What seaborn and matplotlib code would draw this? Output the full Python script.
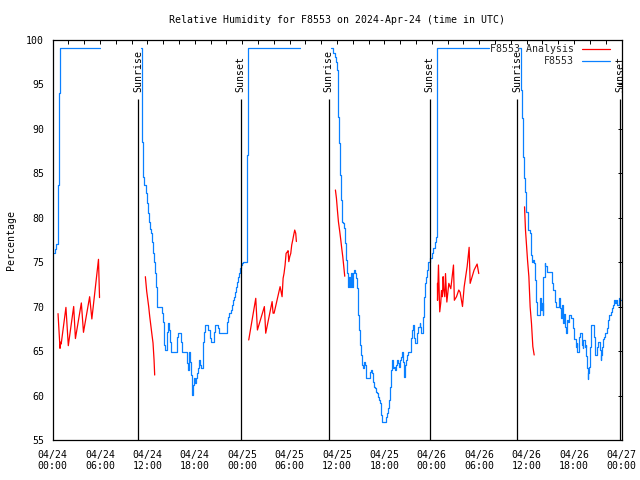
import matplotlib
matplotlib.use("Agg")
import matplotlib.pyplot as plt
import seaborn as sns
import pandas as pd
from matplotlib.ticker import MultipleLocator, FixedLocator

# ---------------- data (time = hours since 2024-04-24 00:00 UTC) ----------------
obs1_h = [0.19, 0.274, 0.358, 0.485, 0.738, 0.865, 0.99, 5.97]
obs1_v = [75.97, 76.2, 76.5, 77.0, 83.6, 93.95, 99.0, 99.0]

obs2_h = [11.245, 11.287, 11.371, 11.498, 11.624, 11.793, 11.920, 12.046, 12.215, 12.342,
          12.468, 12.595, 12.722, 12.848, 12.975, 13.101, 13.228, 13.819, 13.945, 14.072,
          14.198, 14.452, 14.578, 14.705, 14.831, 14.958, 15.717, 15.844, 16.266, 16.393,
          16.984, 17.110, 17.237, 17.363, 17.490, 17.616, 17.743, 17.869, 17.996, 18.123,
          18.249, 18.376, 18.502, 18.629, 18.755, 19.009, 19.135, 19.262, 19.641, 19.895,
          20.021, 20.401, 20.528, 20.992, 21.118, 22.046, 22.173, 22.300, 22.553, 22.680,
          22.806, 22.933, 23.059, 23.186, 23.312, 23.439, 23.566, 23.692, 23.819, 23.987,
          24.156, 24.662, 24.789, 31.329]
obs2_v = [99.0, 95.45, 88.52, 84.59, 83.65, 82.71, 81.59, 80.54, 79.53, 78.67,
          78.22, 77.21, 76.05, 75.04, 73.73, 72.23, 69.98, 69.23, 68.30, 65.67,
          65.11, 67.17, 68.11, 67.36, 66.05, 64.92, 66.61, 66.98, 66.05, 64.92,
          63.61, 62.87, 64.92, 63.80, 62.30, 60.06, 61.18, 61.93, 61.37, 61.93,
          62.49, 63.05, 63.99, 63.43, 63.05, 66.05, 67.17, 67.92, 67.36, 66.42,
          66.05, 67.17, 67.92, 67.55, 66.98, 68.30, 68.86, 69.23, 69.61, 70.17,
          70.73, 71.10, 71.67, 72.23, 72.79, 73.35, 73.73, 74.29, 74.66, 74.85,
          74.96, 87.02, 99.0, 99.0]

obs3_h = [35.21, 35.55, 35.76, 35.89, 35.97, 36.10, 36.18, 36.31, 36.39, 36.52,
          36.65, 36.77, 36.90, 37.03, 37.15, 37.28, 37.41, 37.53, 37.66, 37.79,
          37.91, 38.04, 38.16, 38.29, 38.42, 38.54, 38.67, 38.80, 38.92, 39.05,
          39.18, 39.30, 39.43, 39.56, 39.68, 40.19, 40.36, 40.49, 40.61, 40.74,
          40.87, 40.99, 41.12, 41.25, 41.37, 41.50, 41.62, 41.75, 42.26, 42.38,
          42.51, 42.64, 42.76, 42.89, 43.02, 43.14, 43.27, 43.40, 43.52, 43.65,
          43.78, 43.90, 44.03, 44.16, 44.28, 44.41, 44.54, 44.66, 44.79, 44.92,
          45.04, 45.42, 45.55, 45.68, 45.80, 45.93, 46.06, 46.18, 46.31, 46.44,
          46.56, 46.69, 46.94, 47.07, 47.19, 47.32, 47.45, 47.57, 47.83, 48.04,
          48.21, 48.37, 48.54, 48.62, 48.67, 55.2]
obs3_v = [99.0, 98.45, 98.07, 97.51, 96.57, 93.76, 91.33, 88.33, 84.78, 81.97,
          79.53, 79.35, 78.78, 77.10, 75.22, 73.73, 72.23, 73.35, 72.23, 73.73,
          72.23, 73.73, 74.10, 73.73, 73.17, 72.04, 69.05, 67.36, 65.67, 64.55,
          63.43, 63.05, 63.80, 63.43, 61.93, 62.68, 62.86, 62.49, 61.55, 60.99,
          60.81, 60.43, 60.24, 59.87, 59.49, 59.12, 57.81, 57.06, 57.62, 58.00,
          58.56, 59.49, 60.99, 62.86, 63.99, 63.05, 63.24, 62.86, 63.43, 63.99,
          63.61, 63.24, 63.99, 64.36, 64.92, 63.80, 62.12, 63.43, 63.99, 64.55,
          64.92, 66.42, 67.36, 67.92, 66.42, 65.86, 66.05, 66.98, 67.73, 68.11,
          67.73, 66.98, 68.86, 71.10, 72.60, 73.35, 74.10, 75.04, 75.41, 75.97,
          76.54, 77.29, 77.85, 78.22, 99.0, 99.0]

obs4_h = [59.09, 59.26, 59.39, 59.52, 59.68, 59.81, 59.94, 60.11, 60.23, 60.36,
          60.57, 60.70, 60.82, 60.95, 61.08, 61.20, 61.33, 61.71, 61.84, 61.96,
          62.05, 62.13, 62.26, 62.38, 62.51, 63.19, 63.31, 63.61, 63.73, 64.11,
          64.24, 64.37, 64.49, 64.62, 64.75, 64.87, 65.00, 65.13, 65.25, 65.38,
          65.67, 65.80, 66.05, 66.18, 66.31, 66.43, 66.56, 66.69, 66.94, 67.07,
          67.19, 67.32, 67.45, 67.53, 67.62, 67.70, 67.78, 67.91, 68.04, 68.16,
          68.54, 68.63, 68.71, 68.84, 68.97, 69.26, 69.35, 69.43, 69.56, 69.68,
          69.81, 69.94, 70.19, 70.32, 70.44, 70.70, 70.82, 70.95, 71.08, 71.20,
          71.33, 71.46, 71.71, 71.84, 72.0]
obs4_v = [99.0, 94.33, 91.14, 86.83, 84.40, 82.90, 80.65, 79.72, 78.60, 78.22,
          75.80, 75.00, 75.20, 74.85, 73.00, 70.50, 69.04, 70.90, 69.60, 70.36,
          69.04, 73.35, 74.85, 74.50, 73.90, 72.60, 71.90, 70.50, 70.00, 70.90,
          69.80, 68.70, 70.20, 68.10, 69.20, 67.70, 67.00, 68.50, 68.30, 69.04,
          68.70, 67.55, 66.40, 65.50, 65.90, 64.90, 66.60, 67.00, 65.70, 65.30,
          66.20, 65.50, 65.70, 64.40, 63.05, 61.90, 62.50, 63.25, 65.50, 67.90,
          66.60, 65.50, 64.55, 65.50, 66.05, 65.10, 64.00, 64.55, 65.50, 66.40,
          66.60, 67.00, 67.55, 68.50, 69.04, 69.40, 69.80, 70.20, 70.70, 70.36,
          70.70, 70.20, 70.90, 70.70, 70.70]

ana1_h = [0.70, 0.95, 1.05, 1.10, 1.70, 2.00, 2.68, 2.90, 3.65, 3.92, 4.70, 4.98, 5.82, 5.95]
ana1_v = [69.2, 65.3, 66.0, 65.8, 69.9, 65.6, 70.0, 66.4, 70.4, 67.1, 71.1, 68.6, 75.3, 71.0]

ana2_h = [11.75, 11.92, 12.17, 12.30, 12.59, 12.72, 12.85, 12.93]
ana2_v = [73.35, 71.7, 70.0, 68.9, 66.8, 65.9, 64.0, 62.3]

ana3_h = [24.83, 25.72, 25.93, 26.81, 26.98, 27.79, 27.91, 28.04, 28.80, 29.05,
          29.18, 29.30, 29.43, 29.56, 29.68, 29.81, 29.90, 30.02, 30.15, 30.27,
          30.40, 30.52, 30.65, 30.78, 30.86]
ana3_v = [66.24, 70.92, 67.36, 69.99, 67.0, 70.55, 69.25, 69.25, 72.23, 71.1,
          73.17, 73.73, 74.66, 75.97, 76.1, 76.27, 75.04, 75.6, 75.97, 76.91,
          77.47, 78.03, 78.59, 78.22, 77.3]

ana4_h = [35.80, 35.93, 36.05, 36.18, 36.35, 36.48, 36.60, 36.73, 36.86, 36.98]
ana4_v = [83.09, 82.15, 80.84, 79.53, 78.4, 77.47, 76.53, 75.6, 74.47, 73.4]

ana5_h = [48.71, 48.72, 48.84, 49.00, 49.13, 49.22, 49.34, 49.43, 49.50, 49.64,
          49.73, 49.90, 50.15, 50.40, 50.74, 50.85, 51.12, 51.41, 51.58, 51.88,
          52.09, 52.47, 52.72, 52.85, 53.35, 53.73, 53.94]
ana5_v = [72.6, 70.7, 74.66, 69.4, 70.4, 71.8, 71.1, 73.35, 72.0, 71.1,
          73.7, 70.5, 72.6, 72.0, 74.66, 70.7, 71.1, 71.85, 71.6, 70.0,
          72.2, 74.5, 76.65, 72.6, 74.1, 74.77, 73.7]

ana6_h = [59.73, 59.85, 59.98, 60.11, 60.28, 60.44, 60.61, 60.78, 60.95]
ana6_v = [81.2, 78.6, 76.9, 75.2, 73.35, 69.96, 68.1, 65.5, 64.55]

sun_hours = [10.86, 23.82, 34.93, 47.72, 58.84, 71.85]
sun_labels = ["Sunrise", "Sunset", "Sunrise", "Sunset", "Sunrise", "Sunset"]
sun_line_top = 93.3

xtick_hours = [0, 6, 12, 18, 24, 30, 36, 42, 48, 54, 60, 66, 72]
xtick_labels = ["04/24\n00:00", "04/24\n06:00", "04/24\n12:00", "04/24\n18:00",
                "04/25\n00:00", "04/25\n06:00", "04/25\n12:00", "04/25\n18:00",
                "04/26\n00:00", "04/26\n06:00", "04/26\n12:00", "04/26\n18:00",
                "04/27\n00:00"]
ytick_values = [55, 60, 65, 70, 75, 80, 85, 90, 95, 100]

title = "Relative Humidity for F8553 on 2024-Apr-24 (time in UTC)"
series_obs = "F8553"
series_ana = "F8553 Analysis"
BLUE = "#0a80ff"
RED = "#ff0000"

# ---------------- build tables ----------------
def make_df(segs):
    rows = []
    for i, (hh, vv) in enumerate(segs):
        for h, v in zip(hh, vv):
            rows.append({"hour": h, "value": v, "seg": i})
    return pd.DataFrame(rows)

df_obs = make_df([(obs1_h, obs1_v), (obs2_h, obs2_v), (obs3_h, obs3_v), (obs4_h, obs4_v)])
df_ana = make_df([(ana1_h, ana1_v), (ana2_h, ana2_v), (ana3_h, ana3_v),
                  (ana4_h, ana4_v), (ana5_h, ana5_v), (ana6_h, ana6_v)])

# ---------------- plot ----------------
sns.set_theme(style="white")
plt.rcParams["font.family"] = ["DejaVu Sans Mono", "DejaVu Sans"]
FS = 7.1

fig = plt.figure(figsize=(6.4, 4.8), dpi=100)
fig.patch.set_facecolor("white")
ax = fig.add_axes([52.5 / 640, 1 - 440 / 480, 569 / 640, 400.5 / 480])
ax.set_facecolor("white")

sns.lineplot(data=df_obs, x="hour", y="value", units="seg", estimator=None,
             color=BLUE, linewidth=0.9, drawstyle="steps-post", label=series_obs,
             ax=ax, legend=False, zorder=2)
sns.lineplot(data=df_ana, x="hour", y="value", units="seg", estimator=None,
             color=RED, linewidth=0.9, label=series_ana, ax=ax, legend=False, zorder=3)

ax.vlines(sun_hours, 55, sun_line_top, color="black", linewidth=0.9, zorder=4)
for h, lab in zip(sun_hours, sun_labels):
    ax.text(h, 94.1, lab, rotation=90, ha="center", va="bottom", fontsize=FS,
            color="black", zorder=6)

ax.set_xlim(0, 72)
ax.set_ylim(55, 100)
ax.xaxis.set_major_locator(FixedLocator(xtick_hours))
ax.set_xticklabels(xtick_labels)
ax.xaxis.set_minor_locator(MultipleLocator(2))
ax.set_yticks(ytick_values)
ax.set_yticklabels([str(v) for v in ytick_values])
ax.tick_params(axis="both", which="both", direction="in", top=True, right=True,
               length=3, width=0.7, color="black", labelsize=FS, labelcolor="black")
ax.tick_params(axis="x", which="major", pad=7)
ax.tick_params(axis="y", which="major", pad=6)
for sp in ax.spines.values():
    sp.set_visible(True)
    sp.set_color("black")
    sp.set_linewidth(0.9)

ax.set_xlabel("")
ax.set_ylabel("Percentage", fontsize=FS, color="black")
ax.yaxis.set_label_coords(-0.065, 0.5)
ax.set_title(title, fontsize=FS, color="black", pad=12)

# legend: one entry per series, red first
handles, labels = ax.get_legend_handles_labels()
seen = {}
for hd, lb in zip(handles, labels):
    if lb not in seen:
        seen[lb] = hd
leg = ax.legend([seen[series_ana], seen[series_obs]], [series_ana, series_obs],
                loc="upper right", bbox_to_anchor=(0.98, 0.988), frameon=False,
                markerfirst=False, fontsize=FS, handlelength=2.9, handletextpad=0.8,
                labelspacing=0.22, borderaxespad=0, borderpad=0)
leg.set_zorder(5)

fig.savefig("out.png", dpi=100, facecolor="white")
